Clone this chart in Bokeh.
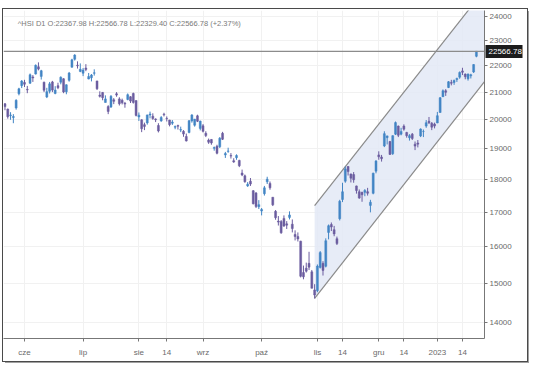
from bokeh.plotting import figure
from bokeh.models import (ColumnDataSource, Range1d, FixedTicker, Span, Label, BasicTickFormatter,
                          LogAxis, NumeralTickFormatter)
from bokeh.embed import file_html
from bokeh.resources import INLINE

# ---- data: ^HSI daily, 2022-05-23 .. 2023-01-26 (trading days) ----
months = ["May", "Jun", "Jul", "Aug", "Sep", "Oct", "Nov", "Dec", "Jan"]

opens = [
    20570, 20380, 20150, 20080, 20420, 20940, 21240,
    21360, 21100, 21330, 21570, 21680, 21960, 21590, 21370, 20820, 21030, 21380, 20950, 21240, 21370, 21500, 21010, 21440, 21940, 22250, 22020, 21780,
    21710, 21910, 21490, 21540, 21710, 21420, 20890, 20990, 20620, 20470, 20460, 20720, 20940, 20750, 20700, 20590, 20730, 20830, 20950, 20690,
    20100, 20000, 19830, 19890, 20170, 20130, 20030, 19800, 19960, 20200, 20050, 19990, 19880, 19740, 19800, 19640, 19600, 19420, 19560, 19960, 19810, 20140, 19700,
    19790, 19530, 19300, 19320, 19020, 19090, 19070, 19530, 18800, 18920, 18780, 18610, 18710, 18620, 18210, 18120, 17800, 17950, 17650, 17580, 17160,
    17030, 17560, 17930, 17880, 17450, 17020, 16730, 16720, 16810, 16650, 16840, 16640, 16340, 16280, 16150, 15280, 15400, 15530, 15300, 14820,
    14800, 15420, 15530, 15450, 16400, 16630, 16480, 16220, 16800, 17380, 17950, 18420, 18180, 18160, 17800, 17620, 17600, 17600, 17620, 17200, 17570, 18270,
    18800, 18730, 19100, 19380, 19250, 18840, 19500, 19780, 19500, 19780, 19560, 19380, 19500, 19160, 19200, 19440, 19590, 19780, 19950, 19880, 19850,
    19890, 20260, 20830, 21050, 21170, 21360, 21360, 21470, 21560, 21800, 21680, 21500, 21610, 21760, 22367.98,
]
highs = [
    20600, 20400, 20270, 20200, 20740, 21160, 21450,
    21460, 21230, 21700, 21640, 22050, 22130, 21840, 21390, 21160, 21380, 21420, 21220, 21350, 21590, 21520, 21290, 21760, 22270, 22450, 22170, 22090,
    21910, 22060, 21720, 21680, 21860, 21420, 21030, 21000, 20880, 20520, 20890, 20780, 21000, 20810, 20760, 20640, 20950, 20850, 20980, 20690,
    20260, 20020, 19900, 20180, 20290, 20230, 20050, 19880, 20130, 20250, 20120, 20000, 19990, 19800, 19830, 19760, 19640, 19520, 19990, 20200, 20030, 20180, 19970,
    19850, 19600, 19350, 19330, 19080, 19140, 19400, 19580, 18900, 19040, 18860, 18690, 18820, 18640, 18320, 18160, 17920, 18050, 17670, 17610, 17360,
    17120, 17800, 18090, 17940, 17450, 17060, 16880, 16760, 16900, 16730, 17020, 16780, 16460, 16400, 16160, 15470, 15550, 15850, 15350, 14970,
    15500, 15870, 15590, 16230, 16630, 16690, 16590, 16280, 17370, 17900, 18420, 18430, 18190, 18240, 17810, 17690, 17620, 17700, 17740, 17370, 18220, 18630,
    18920, 18800, 19600, 19450, 19270, 19460, 19940, 19800, 19720, 19840, 19580, 19500, 19540, 19250, 19300, 19700, 19660, 19990, 20100, 19920, 19900,
    20280, 20820, 21100, 21110, 21410, 21460, 21470, 21540, 21780, 21920, 21700, 21700, 21690, 22060, 22566.78,
]
lows = [
    20340, 20040, 20000, 19880, 20360, 20880, 21150,
    21190, 20960, 21310, 21380, 21660, 21820, 21470, 21000, 20780, 20950, 21000, 20920, 21110, 21290, 20960, 20920, 21390, 21930, 22200, 21890, 21750,
    21600, 21790, 21480, 21400, 21620, 21080, 20800, 20700, 20620, 20200, 20420, 20560, 20830, 20510, 20550, 20430, 20700, 20600, 20580, 20120,
    19960, 19570, 19640, 19830, 20050, 20000, 19920, 19560, 19930, 20120, 19940, 19770, 19820, 19670, 19660, 19570, 19410, 19250, 19530, 19900, 19760, 19920, 19630,
    19560, 19400, 19170, 19140, 18940, 18820, 19030, 19300, 18700, 18870, 18680, 18540, 18640, 18400, 18110, 17900, 17770, 17800, 17230, 17120, 17090,
    16900, 17500, 17860, 17680, 17180, 16770, 16600, 16360, 16560, 16500, 16780, 16400, 16170, 16140, 15150, 15100, 15280, 15350, 14860, 14597,
    14760, 15390, 15200, 15420, 16200, 16440, 16290, 16040, 16750, 17300, 17900, 18130, 17910, 17900, 17560, 17400, 17310, 17480, 17500, 16990, 17540, 18200,
    18640, 18580, 19060, 19150, 18800, 18800, 19470, 19400, 19460, 19620, 19380, 19280, 19300, 18960, 19050, 19400, 19400, 19720, 19850, 19640, 19700,
    19880, 20250, 20820, 20860, 21150, 21250, 21270, 21380, 21500, 21640, 21480, 21430, 21510, 21720, 22329.40,
]
closes = [
    20470, 20112, 20171, 20116, 20697, 21123, 21415,
    21294, 21082, 21653, 21531, 22014, 21869, 21806, 21067, 21018, 21308, 21075, 21075, 21163, 21559, 21008, 21273, 21719, 22229, 22418, 21996, 21859,
    21830, 21853, 21587, 21643, 21725, 21124, 20844, 20797, 20751, 20297, 20846, 20661, 20890, 20574, 20609, 20562, 20905, 20671, 20622, 20156,
    20165, 19689, 19767, 20174, 20202, 20045, 20003, 19610, 20082, 20175, 20040, 19830, 19922, 19763, 19773, 19657, 19503, 19268, 19968, 20170, 20023, 19949, 19954,
    19597, 19452, 19225, 19202, 19044, 18854, 19362, 19326, 18847, 18930, 18761, 18566, 18781, 18444, 18147, 17933, 17855, 17860, 17250, 17165, 17222,
    17079, 17740, 18012, 17740, 17216, 16832, 16701, 16389, 16587, 16612, 16914, 16511, 16281, 16211, 15180, 15165, 15317, 15427, 14863, 14687,
    15455, 15827, 15339, 16161, 16595, 16557, 16358, 16081, 17325, 17619, 18343, 18256, 18045, 17993, 17656, 17424, 17524, 17660, 17573, 17297, 18204, 18597,
    18736, 18675, 19518, 19441, 18814, 19450, 19901, 19463, 19596, 19673, 19450, 19450, 19352, 19094, 19160, 19679, 19593, 19898, 19898, 19741, 19781,
    20145, 20793, 21052, 20991, 21388, 21331, 21436, 21514, 21738, 21746, 21578, 21678, 21651, 22044, 22566.78,
]

# x tick positions (trading-day index) and labels
x_tick_idx = [7, 28, 48, 58, 71, 92, 112, 121, 134, 143, 155, 164]
x_tick_labels = ["cze", "lip", "sie", "14", "wrz", "paź", "lis", "14", "gru", "14", "2023", "14"]
y_ticks = [14000, 15000, 16000, 17000, 18000, 19000, 20000, 21000, 22000, 23000, 24000]

# regression channel (start/end index, upper and lower prices)
chan_x = [111, 171.9]
chan_upper = [17196, 25152]
chan_lower = [14600, 21396]

last_price = 22566.78
header = "^HSI  D1  O:22367.98  H:22566.78  L:22329.40  C:22566.78  (+2.37%)"

UP = "#4285c4"
DOWN = "#6b5c9f"
FONT = "Liberation Sans"

N = len(closes)
idx = list(range(N))
src = ColumnDataSource(dict(
    x=idx, o=opens, h=highs, l=lows, c=closes,
    top=[max(o, c) for o, c in zip(opens, closes)],
    bottom=[min(o, c) for o, c in zip(opens, closes)],
    color=[UP if c >= o else DOWN for o, c in zip(opens, closes)],
))

X_END = 171.9
p = figure(width=524, height=352, output_backend="svg", toolbar_location=None,
           title=None, y_axis_type="log", y_axis_location="right",
           x_range=Range1d(-0.53, X_END), y_range=Range1d(13604, 24248),
           min_border_left=0, min_border_right=43, min_border_top=1, min_border_bottom=23)
p.styles = {"margin-left": "3px", "margin-top": "9px",
            "outline": "1px solid #4a4a4a", "box-shadow": "2px 2px 0px #a0a0a0"}
p.outline_line_color = None
p.background_fill_color = "white"

# channel
p.patch(x=[chan_x[0], chan_x[1], chan_x[1], chan_x[0]],
        y=[chan_upper[0], chan_upper[1], chan_lower[1], chan_lower[0]],
        fill_color="#e3e9f6", fill_alpha=0.85, line_color=None)
p.line(x=chan_x, y=chan_upper, line_color="#8a8a8a", line_width=1.2)
p.line(x=chan_x, y=chan_lower, line_color="#8a8a8a", line_width=1.2)

# last price line
p.add_layout(Span(location=last_price, dimension="width", line_color="#8c8c8c", line_width=1.2))

# candles
p.segment(x0="x", y0="l", x1="x", y1="h", line_color="color", line_width=1, source=src)
p.vbar(x="x", width=0.7, top="top", bottom="bottom", fill_color="color",
       line_color="color", line_width=0.5, source=src)

# header text
p.add_layout(Label(x=4.6, y=23698, text=header, text_font=FONT, text_font_size="7.5px",
                   text_color="#7a7a7a", text_baseline="middle", text_align="left"))

# axes
p.yaxis.ticker = FixedTicker(ticks=y_ticks)
p.yaxis.formatter = BasicTickFormatter(use_scientific=False)
p.xaxis.ticker = FixedTicker(ticks=x_tick_idx)
p.xaxis.major_label_overrides = {i: s for i, s in zip(x_tick_idx, x_tick_labels)}
for ax in (p.xaxis, p.yaxis):
    ax.minor_tick_line_color = None
    ax.major_tick_in = 0
    ax.major_tick_out = 3
    ax.axis_line_color = "#777777"
    ax.major_tick_line_color = "#777777"
    ax.major_label_text_font = FONT
    ax.major_label_text_font_size = "8px"
    ax.major_label_text_color = "#6a6a6a"
p.yaxis.major_label_standoff = 2
p.xaxis.major_label_standoff = 6

p.xgrid.grid_line_color = "#f1f1f1"
p.ygrid.grid_line_color = "#f1f1f1"

# last-price tag: a second right axis, stacked outside the first one, whose
# single thick tick reaches back over the first axis and whose label sits on it
tag_axis = LogAxis(ticker=FixedTicker(ticks=[last_price]),
                   formatter=NumeralTickFormatter(format="0.00"),
                   axis_line_color=None,
                   major_tick_in=29, major_tick_out=8, major_tick_line_width=13,
                   major_tick_line_color="#1c1c1c", major_tick_line_cap="butt",
                   minor_tick_line_color=None, major_label_standoff=-34,
                   major_label_text_color="white", major_label_text_font=FONT,
                   major_label_text_font_size="8px")
p.add_layout(tag_axis, "right")

open("out.html", "w").write(file_html(p, INLINE))
